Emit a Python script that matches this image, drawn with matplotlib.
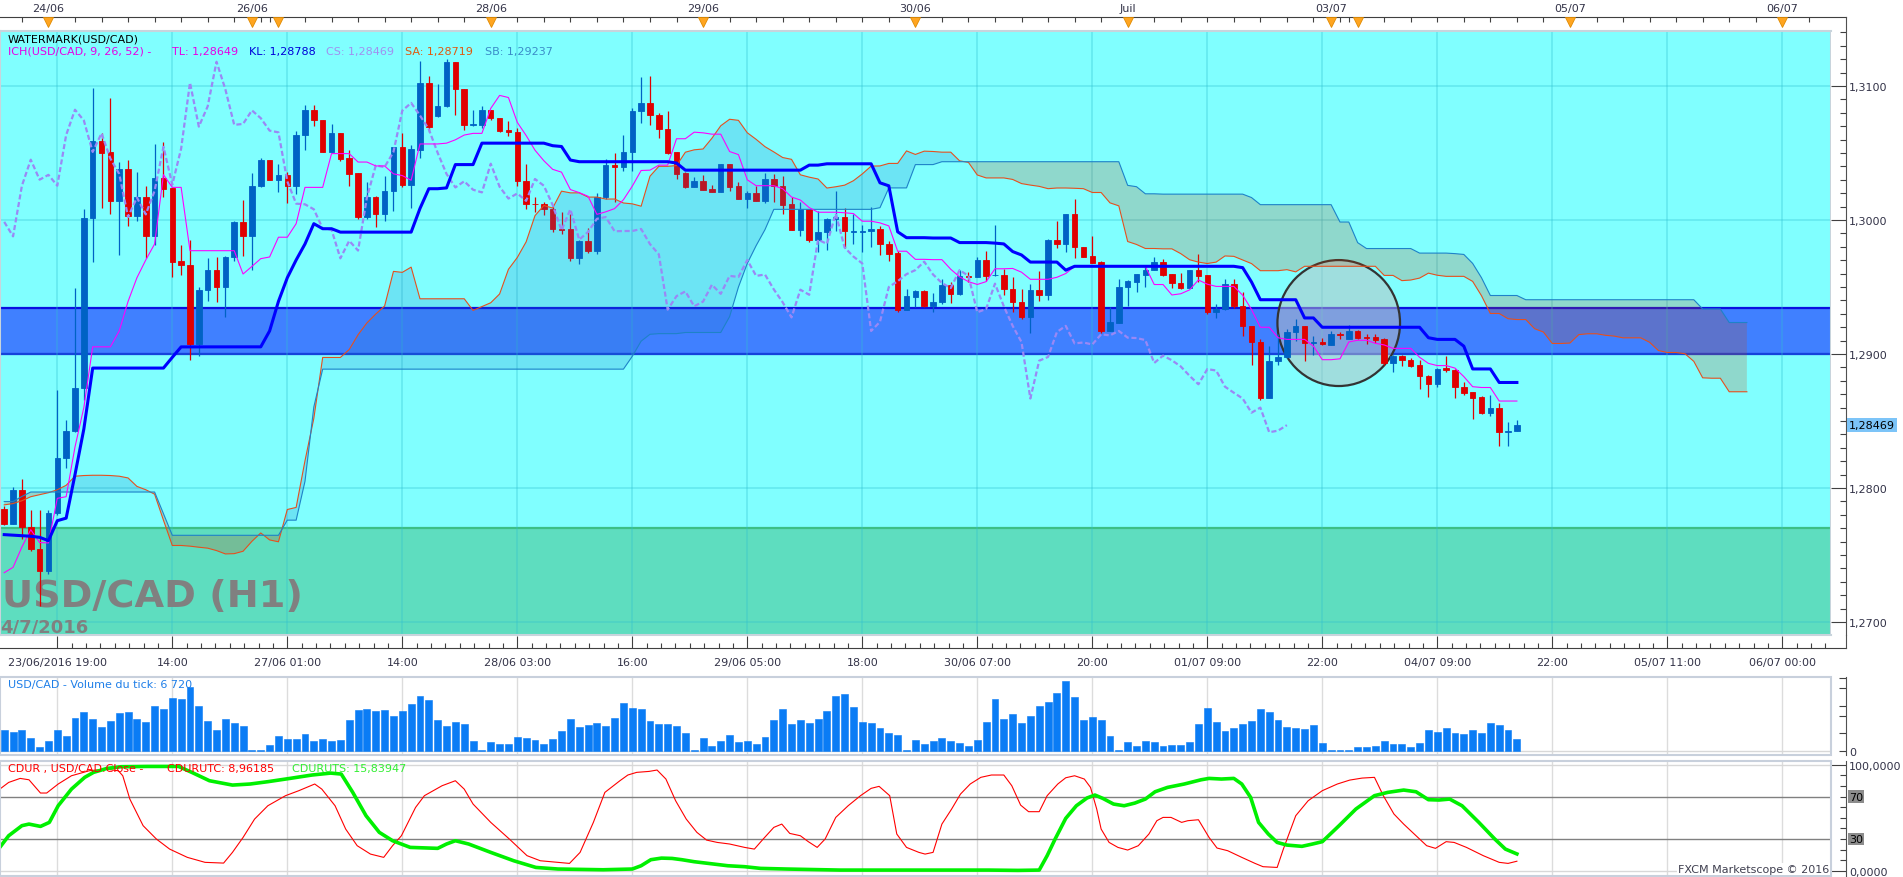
import numpy as np
import matplotlib
matplotlib.use("Agg")
import matplotlib.pyplot as plt
from matplotlib.patches import Ellipse, Rectangle
from matplotlib.ticker import FixedLocator

plt.rcParams['font.family'] = ['DejaVu Sans']
plt.rcParams['font.size'] = 8

# hourly USD/CAD candles, bars -6 .. 165 (bar 0 = 23/06/2016 19:00)
opens = [
    1.27843, 1.27735, 1.27987, 1.27710, 1.27546, 1.27382, 1.27811, 1.28227, 1.28428, 1.28743,
    1.30016, 1.30591, 1.30508, 1.30143, 1.30382, 1.30029, 1.30168, 1.29878, 1.30314, 1.30236,
    1.29696, 1.29664, 1.29071, 1.29475, 1.29626, 1.29500, 1.29727, 1.29986, 1.29878, 1.30256,
    1.30450, 1.30301, 1.30337, 1.30256, 1.30634, 1.30823, 1.30743, 1.30508, 1.30647, 1.30465,
    1.30349, 1.30022, 1.30173, 1.30042, 1.30218, 1.30546, 1.30264, 1.30526, 1.31025, 1.30773,
    1.30848, 1.31181, 1.30980, 1.30710, 1.30710, 1.30818, 1.30760, 1.30672, 1.30659, 1.30289,
    1.30122, 1.30117, 1.30080, 1.29936, 1.29933, 1.29714, 1.29845, 1.29772, 1.30168, 1.30407,
    1.30395, 1.30508, 1.30816, 1.30874, 1.30785, 1.30677, 1.30508, 1.30352, 1.30243, 1.30289,
    1.30233, 1.30206, 1.30420, 1.30256, 1.30160, 1.30198, 1.30143, 1.30306, 1.30256, 1.30117,
    1.29923, 1.30080, 1.29853, 1.29911, 1.30009, 1.30022, 1.29913, 1.29913, 1.29916, 1.29933,
    1.29820, 1.29752, 1.29331, 1.29429, 1.29467, 1.29356, 1.29386, 1.29517, 1.29449, 1.29583,
    1.29575, 1.29701, 1.29588, 1.29588, 1.29487, 1.29391, 1.29273, 1.29480, 1.29442, 1.29853,
    1.29822, 1.30047, 1.29795, 1.29734, 1.29684, 1.29172, 1.29235, 1.29500, 1.29538, 1.29593,
    1.29626, 1.29689, 1.29596, 1.29530, 1.29492, 1.29626, 1.29588, 1.29311, 1.29336, 1.29525,
    1.29361, 1.29210, 1.29089, 1.28668, 1.28945, 1.28978, 1.29164, 1.29210, 1.29081, 1.29089,
    1.29064, 1.29147, 1.29114, 1.29172, 1.29124, 1.29129, 1.29109, 1.28933, 1.28988, 1.28953,
    1.28920, 1.28837, 1.28774, 1.28895, 1.28882, 1.28756, 1.28718, 1.28680, 1.28562, 1.28600,
    1.28416, 1.28428]
highs = [
    1.27869, 1.28007, 1.28070, 1.27836, 1.27836, 1.27836, 1.28731, 1.28504, 1.29492, 1.30080,
    1.30987, 1.30647, 1.30912, 1.30433, 1.30450, 1.30357, 1.30256, 1.30566, 1.30584, 1.30236,
    1.29815, 1.29853, 1.29500, 1.29719, 1.29727, 1.29734, 1.29996, 1.30148, 1.30349, 1.30465,
    1.30450, 1.30420, 1.30357, 1.30667, 1.30861, 1.30861, 1.30743, 1.30717, 1.30647, 1.30526,
    1.30349, 1.30281, 1.30180, 1.30332, 1.30546, 1.30647, 1.30559, 1.31189, 1.31075, 1.31012,
    1.31201, 1.31181, 1.30980, 1.30818, 1.30848, 1.30818, 1.30760, 1.30740, 1.30685, 1.30415,
    1.30168, 1.30135, 1.30100, 1.30062, 1.30047, 1.29853, 1.29941, 1.30201, 1.30453, 1.30501,
    1.30634, 1.30836, 1.31070, 1.31075, 1.30798, 1.30816, 1.30508, 1.30357, 1.30324, 1.30337,
    1.30261, 1.30420, 1.30420, 1.30286, 1.30213, 1.30256, 1.30352, 1.30344, 1.30332, 1.30168,
    1.30138, 1.30080, 1.30067, 1.30016, 1.30218, 1.30092, 1.30042, 1.29959, 1.30097, 1.29954,
    1.29840, 1.29769, 1.29487, 1.29480, 1.29480, 1.29457, 1.29563, 1.29538, 1.29626, 1.29613,
    1.29727, 1.29769, 1.29961, 1.29638, 1.29575, 1.29482, 1.29525, 1.29618, 1.29860, 1.29991,
    1.30047, 1.30155, 1.29795, 1.29883, 1.29694, 1.29348, 1.29563, 1.29550, 1.29596, 1.29651,
    1.29727, 1.29709, 1.29596, 1.29606, 1.29626, 1.29744, 1.29588, 1.29374, 1.29563, 1.29563,
    1.29462, 1.29210, 1.29114, 1.29059, 1.29147, 1.29190, 1.29260, 1.29210, 1.29134, 1.29122,
    1.29172, 1.29164, 1.29215, 1.29180, 1.29147, 1.29147, 1.29122, 1.28995, 1.28995, 1.28970,
    1.28958, 1.28844, 1.28895, 1.28983, 1.28887, 1.28794, 1.28718, 1.28685, 1.28693, 1.28635,
    1.28491, 1.28509]
lows = [
    1.27722, 1.27735, 1.27622, 1.27533, 1.27120, 1.27357, 1.27798, 1.28151, 1.28416, 1.28655,
    1.29689, 1.30092, 1.30042, 1.29739, 1.29954, 1.29996, 1.29714, 1.29815, 1.30168, 1.29575,
    1.29593, 1.28958, 1.28983, 1.29399, 1.29391, 1.29278, 1.29694, 1.29734, 1.29626, 1.30243,
    1.30301, 1.30206, 1.30130, 1.30193, 1.30526, 1.30702, 1.30508, 1.30508, 1.30438, 1.30256,
    1.30004, 1.30004, 1.29946, 1.29996, 1.30067, 1.30248, 1.30092, 1.30465, 1.30659, 1.30768,
    1.30843, 1.30785, 1.30672, 1.30702, 1.30685, 1.30748, 1.30659, 1.30627, 1.30256, 1.30080,
    1.30062, 1.30037, 1.29908, 1.29896, 1.29694, 1.29669, 1.29757, 1.29744, 1.30155, 1.30138,
    1.30364, 1.30369, 1.30727, 1.30710, 1.30609, 1.30490, 1.30306, 1.30236, 1.30243, 1.30226,
    1.30206, 1.30206, 1.30218, 1.30160, 1.30092, 1.30143, 1.30130, 1.30135, 1.30047, 1.29923,
    1.29878, 1.29833, 1.29764, 1.29777, 1.29916, 1.29790, 1.29820, 1.29764, 1.29797, 1.29739,
    1.29694, 1.29316, 1.29331, 1.29348, 1.29348, 1.29311, 1.29374, 1.29381, 1.29444, 1.29538,
    1.29575, 1.29543, 1.29583, 1.29437, 1.29316, 1.29260, 1.29154, 1.29399, 1.29406, 1.29790,
    1.29764, 1.29714, 1.29727, 1.29676, 1.29154, 1.29172, 1.29230, 1.29361, 1.29462, 1.29500,
    1.29626, 1.29583, 1.29495, 1.29487, 1.29492, 1.29538, 1.29298, 1.29265, 1.29331, 1.29341,
    1.29134, 1.28920, 1.28655, 1.28668, 1.28920, 1.28970, 1.29096, 1.28945, 1.28995, 1.29064,
    1.29064, 1.29114, 1.29114, 1.29109, 1.29071, 1.29084, 1.28920, 1.28869, 1.28912, 1.28902,
    1.28736, 1.28680, 1.28756, 1.28862, 1.28668, 1.28693, 1.28517, 1.28549, 1.28534, 1.28315,
    1.28315, 1.28423]
closes = [
    1.27735, 1.27987, 1.27710, 1.27546, 1.27382, 1.27811, 1.28227, 1.28428, 1.28743, 1.30016,
    1.30591, 1.30501, 1.30143, 1.30382, 1.30029, 1.30168, 1.29878, 1.30314, 1.30231, 1.29689,
    1.29664, 1.29071, 1.29480, 1.29626, 1.29500, 1.29727, 1.29986, 1.29878, 1.30256, 1.30450,
    1.30301, 1.30337, 1.30256, 1.30634, 1.30823, 1.30743, 1.30508, 1.30647, 1.30458, 1.30344,
    1.30022, 1.30168, 1.30042, 1.30218, 1.30546, 1.30264, 1.30533, 1.31025, 1.30697, 1.30848,
    1.31181, 1.30975, 1.30710, 1.30717, 1.30818, 1.30760, 1.30667, 1.30654, 1.30289, 1.30122,
    1.30117, 1.30080, 1.29936, 1.29928, 1.29714, 1.29845, 1.29772, 1.30168, 1.30407, 1.30395,
    1.30508, 1.30816, 1.30874, 1.30780, 1.30677, 1.30501, 1.30344, 1.30243, 1.30289, 1.30226,
    1.30206, 1.30420, 1.30248, 1.30160, 1.30198, 1.30143, 1.30306, 1.30256, 1.30112, 1.29923,
    1.30080, 1.29853, 1.29911, 1.30009, 1.30022, 1.29916, 1.29918, 1.29918, 1.29933, 1.29820,
    1.29744, 1.29331, 1.29432, 1.29467, 1.29356, 1.29391, 1.29517, 1.29449, 1.29583, 1.29575,
    1.29701, 1.29583, 1.29593, 1.29482, 1.29386, 1.29273, 1.29480, 1.29442, 1.29853, 1.29822,
    1.30047, 1.29795, 1.29727, 1.29676, 1.29172, 1.29240, 1.29500, 1.29543, 1.29596, 1.29626,
    1.29689, 1.29593, 1.29530, 1.29492, 1.29626, 1.29583, 1.29311, 1.29336, 1.29525, 1.29356,
    1.29210, 1.29089, 1.28668, 1.28950, 1.28978, 1.29164, 1.29210, 1.29079, 1.29086, 1.29071,
    1.29147, 1.29139, 1.29172, 1.29122, 1.29119, 1.29104, 1.28933, 1.28988, 1.28953, 1.28907,
    1.28837, 1.28774, 1.28887, 1.28877, 1.28756, 1.28711, 1.28668, 1.28562, 1.28600, 1.28416,
    1.28428, 1.28469]
tick_volume = [
    11700, 10600, 11700, 7100, 1900, 5400, 11700, 8300, 18600, 22100,
    18000, 13400, 16900, 21500, 22100, 18000, 16300, 25500, 23800, 30100,
    29600, 36900, 25500, 16900, 11700, 18000, 15700, 14000, 400, 600,
    3100, 8300, 6500, 6500, 9400, 5400, 6500, 5400, 6000, 17500,
    23200, 23800, 22700, 23200, 19800, 22700, 26700, 31300, 29000, 17500,
    14000, 16300, 15200, 5400, 600, 4800, 3600, 3600, 7700, 7100,
    6000, 3600, 6500, 11100, 18000, 13400, 14600, 15700, 14000, 18600,
    27300, 24400, 23800, 17300, 15400, 15600, 14400, 10400, 400, 7300,
    2700, 5600, 9000, 5000, 5600, 3800, 7900, 17700, 24000, 15400,
    17700, 15900, 18200, 22800, 31500, 32600, 25200, 16500, 15900, 13100,
    10200, 9000, 400, 6100, 3800, 5600, 7300, 5800, 4400, 2700,
    6100, 16500, 29800, 18200, 21100, 15900, 20000, 25700, 28000, 33200,
    40100, 30900, 17700, 19400, 17700, 8400, 400, 5000, 2700, 5600,
    5000, 2700, 3300, 3300, 5000, 15400, 24600, 16500, 11300, 13100,
    15400, 17100, 24000, 22300, 17700, 13400, 12900, 12500, 14800, 4400,
    200, 200, 200, 1900, 1900, 2500, 5600, 3800, 3800, 1900,
    4400, 11900, 10600, 13100, 10200, 9600, 11900, 10200, 15900, 14800,
    11900, 6720]

# Ichimoku values that need bars left of the visible window
tenkan_early = [1.27368, 1.27408, 1.27560, 1.27689, 1.27593, 1.27590, 1.27923, 1.27935]   # bars -6..1
kijun_early = ([1.27652, 1.27648, 1.27644, 1.27640, 1.27632, 1.27607, 1.27756, 1.27775,
                1.28100, 1.28440] + [1.28895] * 9 + [1.28975] + [1.29053] * 5)          # bars -6..18
senkou_a_early = [1.27874, 1.27884, 1.27905, 1.27935, 1.27950, 1.27965, 1.27987, 1.28020,
                  1.28088, 1.28093, 1.28095, 1.28095, 1.28093, 1.28088, 1.28075, 1.28012,
                  1.27987, 1.27954, 1.27760, 1.27571, 1.27571, 1.27566, 1.27558, 1.27551,
                  1.27533, 1.27508]                                                       # plotted -6..19
senkou_b_early = ([1.27899, 1.27899, 1.27937] + [1.27970] * 15 + [1.27808] + [1.27647] * 13
                  + [1.27760, 1.27760, 1.28050, 1.28605] + [1.28887] * 35
                  + [1.28983, 1.29096, 1.29147, 1.29152, 1.29152, 1.29152])              # plotted -6..70

# trader drawings
green_zone_top = 1.2770
band_low, band_high = 1.2900, 1.2934
circle_center = (144.86, 1.29231)
circle_size = (13.86, 0.0094)

# oscillator CDURUTC (red) and CDURUTS (green), vertices
utc_x = [-6.5, -5.5, -4.2, -3.2, -1.9, -1.2, 0.1, 1.6, 3.6, 5.4, 6.9, 7.4, 8.2, 9.7, 11.2, 12.7,
         14.7, 16.7, 18.8, 19.8, 21.0, 22.3, 23.8, 25.8, 27.3, 29.1, 29.9, 31.4, 32.6, 33.9, 35.4,
         36.9, 37.9, 38.9, 40.5, 41.5, 43.5, 45.0, 46.0, 47.0, 49.0, 51.1, 53.1, 54.6, 56.6, 57.9,
         59.1, 60.6, 61.9, 63.6, 64.5, 65.5, 66.9, 67.8, 68.8, 69.9, 71.1, 72.3, 73.4, 74.6, 76.0,
         77.7, 78.8, 79.8, 81.0, 81.9, 82.8, 84.0, 84.9, 85.9, 86.8, 88.0, 89.4, 90.8, 92.0, 92.9,
         94.1, 94.9, 96.0, 97.4, 98.1, 99.0, 100.0, 101.1, 102.1, 103.2, 104.4, 105.6, 107.0, 107.9,
         108.9, 109.8, 111.0, 111.9, 113.1, 114.0, 115.0, 116.1, 116.8, 117.5, 118.0, 118.9, 119.9,
         121.0, 122.2, 123.4, 124.3, 125.0, 125.9, 127.1, 127.8, 129.0, 130.2, 131.1, 132.3, 133.9,
         135.4, 136.3, 137.9, 138.6, 140.0, 141.4, 143.0, 144.7, 146.1, 147.5, 148.9, 149.9, 151.1,
         152.2, 153.6, 154.8, 155.8, 157.0, 157.9, 159.3, 161.2, 163.0, 164.0, 165.0]
utc_y = [77.0, 83.3, 87.1, 85.8, 73.3, 73.3, 81.8, 89.6, 94.3, 95.9, 94.3, 89.6, 67.6, 42.5, 29.9, 20.4,
         12.6, 7.9, 7.2, 17.3, 31.4, 48.7, 61.3, 70.8, 75.5, 81.8, 77.0, 61.3, 39.3, 23.6, 15.7,
         12.6, 23.6, 33.0, 59.7, 70.8, 80.2, 84.9, 77.0, 62.9, 45.6, 29.9, 14.2, 9.4, 7.9, 6.9,
         17.3, 45.6, 73.9, 84.9, 90.3, 92.8, 93.7, 95.0, 86.5, 66.0, 48.7, 36.2, 28.9, 26.7, 25.2,
         22.0, 20.4, 29.9, 40.9, 44.0, 35.2, 33.0, 27.4, 22.0, 29.9, 50.3, 61.3, 70.8, 77.7, 79.6,
         70.8, 34.6, 22.0, 17.3, 15.7, 17.3, 44.0, 58.2, 72.3, 81.8, 88.1, 90.3, 90.3, 80.2,
         61.9, 55.7, 55.7, 70.8, 81.8, 87.7, 89.6, 86.5, 78.6, 58.2, 39.3, 26.7, 22.0,
         19.5, 23.6, 34.6, 47.2, 50.3, 50.3, 45.6, 47.2, 48.1, 31.4, 21.4, 18.9, 12.6,
         6.9, 3.8, 3.1, 20.4, 51.9, 66.0, 75.5, 81.8, 85.5, 87.4, 88.1, 70.8, 53.5,
         44.0, 33.0, 23.6, 21.1, 27.4, 26.7, 22.0, 14.2, 7.9, 6.9, 8.96]
uts_x = [-6.5, -5.5, -4.0, -3.2, -1.9, -0.9, 0.1, 1.6, 3.1, 4.1, 5.6, 7.2, 10.2, 13.7, 15.2, 17.2,
         19.8, 21.8, 23.8, 26.3, 28.8, 30.9, 32.1, 33.4, 34.9, 36.4, 37.9, 39.9, 43.0, 44.0, 45.0,
         46.5, 49.0, 51.6, 54.1, 56.6, 61.7, 65.0, 66.0, 67.1, 68.3, 69.5, 70.6, 72.0, 73.9, 75.8,
         77.7, 79.5, 82.4, 88.5, 105.3, 108.6, 111.0, 111.9, 112.8, 114.0, 115.2, 116.4, 117.3,
         118.2, 119.4, 120.6, 121.8, 123.0, 124.1, 125.5, 127.4, 129.3, 130.2, 131.6, 133.0, 133.9,
         134.9, 135.8, 136.9, 137.9, 139.0, 140.7, 141.9, 143.0, 144.9, 146.8, 148.9, 150.4, 152.2,
         153.6, 155.0, 156.2, 157.4, 158.8, 160.7, 162.5, 163.7, 165.0]
uts_y = [22.0, 33.0, 42.5, 44.0, 41.8, 45.6, 61.3, 77.0, 88.1, 92.8, 96.5, 98.1, 98.4, 98.4, 92.8, 84.9,
         80.8, 81.8, 84.0, 87.1, 90.3, 92.1, 91.2, 73.9, 51.9, 36.2, 28.3, 22.0, 21.1, 25.2, 28.3,
         25.2, 17.3, 9.4, 3.1, 1.6, 0.9, 1.6, 4.7, 10.4, 11.9, 11.6, 10.4, 8.5, 6.6, 4.7,
         3.8, 2.2, 1.6, 0.6, 0.6, 0.3, 0.6, 14.2, 29.9, 49.4, 61.3, 68.6, 71.4,
         68.2, 62.9, 61.3, 63.8, 67.6, 74.5, 78.6, 81.8, 85.8, 87.1, 86.5, 87.1, 81.8,
         69.2, 45.6, 34.6, 26.7, 24.2, 23.0, 25.2, 27.4, 42.5, 58.2, 70.8, 73.9, 76.1,
         74.5, 67.0, 66.7, 67.6, 61.3, 45.6, 29.9, 20.4, 15.84]

top_days = [-1, 22, 49, 73, 97, 121, 144, 171, 195]
top_day_labels = ['24/06', '26/06', '28/06', '29/06', '30/06', 'Juil', '03/07', '05/07', '06/07']
day_marks = [-1, 22, 25, 49, 73, 97, 121, 144, 147, 171, 195]
bottom_labels = ['23/06/2016 19:00', '14:00', '27/06 01:00', '14:00', '28/06 03:00', '16:00',
                 '29/06 05:00', '18:00', '30/06 07:00', '20:00', '01/07 09:00', '22:00',
                 '04/07 09:00', '22:00', '05/07 11:00', '06/07 00:00']

# ---------------------------------------------------------------- layout
W, H = 1903, 878
BAR0, BARW = 57.3, 8.846          # pixel x of bar 0 and bar spacing
PLOT_R, SPINE_X = 1831, 1846
BULL, BEAR = '#0062C4', '#E00000'
TXT = '#333348'


def px_rect(x0, y0, x1, y1):
    return [x0 / W, 1 - y1 / H, (x1 - x0) / W, (y1 - y0) / H]


def to_bar(px):
    return (px - BAR0) / BARW


xl = (to_bar(0), to_bar(PLOT_R))
spine_bar = to_bar(SPINE_X)
out_pt = (SPINE_X - PLOT_R) * 0.72
grid_bars = np.arange(0, 201, 13)

bars = np.arange(-6, 166)
o = np.array(opens)
h = np.array(highs)
l = np.array(lows)
c = np.array(closes)
n = len(c)


def donchian_mid(period, k):
    lo = k - period + 1
    return (h[lo:k + 1].max() + l[lo:k + 1].min()) / 2


tenkan = np.array(tenkan_early + [donchian_mid(9, k) for k in range(8, n)])
kijun = np.array(kijun_early + [donchian_mid(26, k) for k in range(25, n)])
senkou_a = np.concatenate([senkou_a_early, (tenkan + kijun) / 2])
senkou_b = np.concatenate([senkou_b_early, [donchian_mid(52, k) for k in range(51, n)]])
cloud_x = np.arange(-6, 166 + 26)

fig = plt.figure(figsize=(W / 100, H / 100), dpi=100)
fig.patch.set_facecolor('white')

# ---------------------------------------------------------------- main price panel
ax = fig.add_axes(px_rect(0, 31.7, PLOT_R, 635.7))
ax.set_facecolor('#80FFFF')
ax.set_xlim(xl)
ax.set_ylim(1.269052, 1.314127)

ax.axhspan(1.2, green_zone_top, color='#5EDDBF', lw=0, zorder=1)
ax.axhline(green_zone_top, color='#3CBF85', lw=1.6, zorder=1.1)
ax.axhspan(band_low, band_high, color='#4080FF', lw=0, zorder=1)
ax.axhline(band_low, color='#0A10E0', lw=1.6, zorder=1.1)
ax.axhline(band_high, color='#0A10E0', lw=1.6, zorder=1.1)

for gx in grid_bars:
    ax.axvline(gx, color='#30C0D0', alpha=0.35, lw=1.2, zorder=1.5)
for gy in [1.27, 1.28, 1.29, 1.30, 1.31]:
    ax.axhline(gy, color='#30C0D0', alpha=0.35, lw=1.2, zorder=1.5)

ax.text(2 / PLOT_R, (635.7 - 606.7) / 604, 'USD/CAD (H1)', transform=ax.transAxes,
        fontsize=27.5, fontweight='bold', color='#808080', ha='left', va='baseline', zorder=1.6)
ax.text(0, (635.7 - 633) / 604, '4/7/2016', transform=ax.transAxes,
        fontsize=13, fontweight='bold', color='#808080', ha='left', va='baseline', zorder=1.6)

ax.add_patch(Ellipse(circle_center, circle_size[0], circle_size[1], facecolor=(0.75, 0.75, 0.75, 0.5),
                     edgecolor='#333333', lw=1.6, zorder=2))

cols = np.where(c >= o, BULL, BEAR)
ax.vlines(bars, l, h, colors=cols, lw=0.9, zorder=3)
ax.bar(bars, np.abs(c - o), bottom=np.minimum(o, c), width=0.62, color=cols,
       edgecolor=cols, linewidth=0.6, zorder=3.1)

ax.fill_between(cloud_x, senkou_a, senkou_b, where=senkou_a >= senkou_b, interpolate=True,
                color='#1E78C8', alpha=0.2, lw=0, zorder=4)
ax.fill_between(cloud_x, senkou_a, senkou_b, where=senkou_a < senkou_b, interpolate=True,
                color='#D04000', alpha=0.2, lw=0, zorder=4)
ax.plot(cloud_x, senkou_a, color='#E5501E', lw=0.8, zorder=5)
ax.plot(cloud_x, senkou_b, color='#1E82C8', lw=0.8, zorder=5)
ax.plot(bars[26:] - 26, c[26:], color='#9A88F5', lw=1.6, ls=(0, (2.3, 1.2)), zorder=5.1)
ax.plot(bars, tenkan, color='#FF00FF', lw=0.8, zorder=5.2)
ax.plot(bars, kijun, color='#0000FF', lw=2.2, zorder=5.3)

ax.set_xticks([])
ax.yaxis.tick_right()
ax.spines['right'].set_position(('outward', out_pt))
ax.set_yticks([1.27, 1.28, 1.29, 1.30, 1.31])
ax.set_yticklabels(['1,2700', '1,2800', '1,2900', '1,3000', '1,3100'])
ax.yaxis.set_minor_locator(FixedLocator(np.arange(1.270, 1.3141, 0.001)))
ax.tick_params(axis='y', which='major', direction='in', length=out_pt, width=0.8,
               pad=2, labelsize=8, labelcolor=TXT, color='#404040')
ax.tick_params(axis='y', which='minor', direction='in', length=4.3, width=0.8, color='#404040')
for s in ['left', 'top', 'bottom']:
    ax.spines[s].set_color('#C8D4DC')
    ax.spines[s].set_linewidth(1.5)
ax.spines['right'].set_color('#505050')
ax.spines['right'].set_linewidth(0.8)
ax.axvline(xl[1], color='#C8D4DC', lw=1.5, zorder=6)

ax.text(1849 / PLOT_R, closes[-1], '1,28469', transform=ax.get_yaxis_transform(),
        ha='left', va='center', fontsize=8, color='black', clip_on=False, zorder=10,
        bbox=dict(boxstyle='square,pad=0.15', fc='#7CC4F8', ec='none'))

# legend lines of the price panel
fig.text(8 / W, 1 - 39 / H, 'WATERMARK(USD/CAD)', color='black', va='center', fontsize=8)
for x, txt, col in [(8, 'ICH(USD/CAD, 9, 26, 52) -', '#E600E6'), (172, 'TL: 1,28649', '#E600E6'),
                    (249, 'KL: 1,28788', '#0000D8'), (326, 'CS: 1,28469', '#A090F0'),
                    (405, 'SA: 1,28719', '#E05A10'), (485, 'SB: 1,29237', '#3A8CC8')]:
    fig.text(x / W, 1 - 52 / H, txt, color=col, va='center', fontsize=8)

# ---------------------------------------------------------------- top date strip
axt = fig.add_axes(px_rect(0, 0, PLOT_R, 31))
axt.set_xlim(xl)
axt.set_ylim(31, 0)
axt.axis('off')
axt.plot([xl[0], spine_bar], [18, 18], color='#404040', lw=0.8, clip_on=False)
axt.plot([spine_bar, spine_bar], [18, 31], color='#505050', lw=0.8, clip_on=False)
top_ticks = list(range(-4, 21, 3)) + [23, 24] + list(range(28, 143, 3)) + [145, 146] + list(range(150, 202, 3))
axt.vlines(top_ticks, 18, 23, color='#404040', lw=0.8)
axt.plot(day_marks, [23] * len(day_marks), ls='none', marker='v', ms=7,
         mfc='#FFA520', mec='#E08A00', mew=0.6)
for x, lab in zip(top_days, top_day_labels):
    axt.text(x, 9, lab, ha='center', va='center', fontsize=8, color=TXT)

# ---------------------------------------------------------------- bottom time axis
axb = fig.add_axes(px_rect(0, 636, PLOT_R, 676))
axb.set_xlim(xl)
axb.set_ylim(40, 0)
axb.axis('off')
axb.plot([xl[0], spine_bar], [13, 13], color='#404040', lw=0.8, clip_on=False)
axb.plot([spine_bar, spine_bar], [0, 13], color='#505050', lw=0.8, clip_on=False)
axb.vlines(grid_bars, 0.5, 13, color='#404040', lw=0.8)
minor_b = [g + 13 * j / 8 for g in grid_bars for j in range(1, 8) if g + 13 * j / 8 < xl[1]]
axb.vlines(minor_b, 8, 13, color='#404040', lw=0.8)
for x, lab in zip(grid_bars, bottom_labels):
    axb.text(x, 27, lab, ha='center', va='center', fontsize=8, color=TXT)


def panel_frame(a):
    a.add_patch(Rectangle((0, 0), 1, 1, transform=a.transAxes, fill=False,
                          ec='#C8D0DC', lw=1.5, clip_on=False, zorder=8))
    for s in ['left', 'top', 'bottom']:
        a.spines[s].set_visible(False)
    a.spines['right'].set_position(('outward', out_pt))
    a.spines['right'].set_color('#505050')
    a.spines['right'].set_linewidth(0.8)
    a.set_xticks([])
    a.yaxis.tick_right()


# ---------------------------------------------------------------- tick volume panel
axv = fig.add_axes(px_rect(0, 677.7, PLOT_R, 756))
axv.set_facecolor('white')
axv.set_xlim(xl)
axv.set_ylim(-2477, 42624)
for gx in grid_bars:
    axv.axvline(gx, color='#DCDCDC', lw=1, zorder=1)
axv.axhline(0, color='#D8D8D8', lw=1, zorder=1)
axv.bar(bars, tick_volume, width=0.78, color='#0A7CF5', edgecolor='#0A7CF5', linewidth=0.4, zorder=3)
panel_frame(axv)
axv.set_yticks([0, 10000, 20000, 26000, 36000, 42000])
axv.set_yticklabels(['0', '', '', '', '', ''])
axv.tick_params(axis='y', direction='in', length=5, width=0.8, pad=2, labelsize=8,
                labelcolor=TXT, color='#404040')
fig.text(8 / W, 1 - 685 / H, 'USD/CAD - Volume du tick: 6 720', color='#1E7EE8', va='center', fontsize=8)

# ---------------------------------------------------------------- oscillator panel
axo = fig.add_axes(px_rect(0, 761.7, PLOT_R, 876.7))
axo.set_facecolor('white')
axo.set_xlim(xl)
axo.set_ylim(-4.7, 103.8)
for gx in grid_bars:
    axo.axvline(gx, color='#DCDCDC', lw=1, zorder=1)
for gy in [0, 100]:
    axo.axhline(gy, color='#D8D8D8', lw=1, zorder=1)
for gy in [30, 70]:
    axo.axhline(gy, color='#808080', lw=1, zorder=1.5)
axo.plot(utc_x, utc_y, color='#FF0000', lw=0.8, zorder=3)
axo.plot(uts_x, uts_y, color='#00F000', lw=2.6, zorder=3.5)
panel_frame(axo)
axo.set_yticks([0, 100])
axo.set_yticklabels(['0,0000', '100,0000'])
axo.yaxis.set_minor_locator(FixedLocator(np.arange(10, 100, 10)))
axo.tick_params(axis='y', which='major', direction='in', length=out_pt, width=0.8, pad=2,
                labelsize=8, labelcolor=TXT, color='#404040')
axo.tick_params(axis='y', which='minor', direction='in', length=4.3, width=0.8, color='#404040')
for lv in [70, 30]:
    axo.text(1849 / PLOT_R, lv, str(lv), transform=axo.get_yaxis_transform(), ha='left',
             va='center', fontsize=8, color='black', clip_on=False, zorder=10,
             bbox=dict(boxstyle='square,pad=0.12', fc='#8C8C8C', ec='none'))
axo.text(1829 / PLOT_R, 1.6, 'FXCM Marketscope \u00a9 2016', transform=axo.get_yaxis_transform(),
         ha='right', va='center', fontsize=8, color='#404050', zorder=10,
         bbox=dict(boxstyle='square,pad=0.1', fc='white', ec='none'))
fig.text(8 / W, 1 - 769 / H, 'CDUR , USD/CAD.Close -', color='#FF0000', va='center', fontsize=8)
fig.text(167 / W, 1 - 769 / H, 'CDURUTC: 8,96185', color='#FF0000', va='center', fontsize=8)
fig.text(292 / W, 1 - 769 / H, 'CDURUTS: 15,83947', color='#33EE33', va='center', fontsize=8)

fig.savefig('out.png', dpi=100)
